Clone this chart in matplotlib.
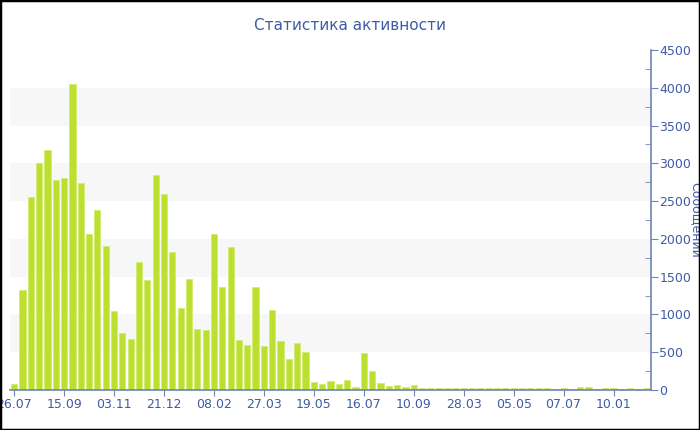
import matplotlib
matplotlib.use("Agg")
import matplotlib.pyplot as plt
from matplotlib.patches import Rectangle
from matplotlib.ticker import MultipleLocator

# Weekly message counts.
counts = [80, 1320, 2550, 3000, 3180, 2780, 2810, 4050, 2740, 2070,
          2380, 1900, 1040, 750, 670, 1690, 1460, 2850, 2600, 1820,
          1080, 1470, 807, 794, 2060, 1364, 1893, 666, 591, 1368,
          587, 1055, 653, 415, 622, 503, 101, 79, 124, 79,
          128, 35, 486, 256, 88, 53, 62, 35, 66, 31,
          24, 22, 30, 22, 25, 22, 20, 25, 22, 20,
          22, 20, 33, 22, 20, 18, 22, 18, 46, 40,
          18, 20, 22, 18, 20, 18, 20]
tick_labels = ["26.07", "15.09", "03.11", "21.12", "08.02", "27.03", "19.05",
               "16.07", "10.09", "28.03", "05.05", "07.07", "10.01"]
tick_step = 6

text_color = "#3f5ba5"
axis_color = "#6e83b8"

fig = plt.figure(figsize=(7, 4.3), dpi=100)
ax = fig.add_axes([10 / 700, 40 / 430, 641 / 700, 340 / 430])

# Alternating grey bands.
for lo in (500, 1500, 2500, 3500):
    ax.axhspan(lo, lo + 500, color="#f7f7f7", zorder=0, lw=0)

x = list(range(len(counts)))
ax.bar(x, counts, width=0.74, color="#bde030", edgecolor="#d2ec72",
       linewidth=0.6, zorder=2)

ax.set_xlim(-0.5, len(counts) - 0.5)
ax.set_ylim(0, 4500)

ax.set_xticks(x[::tick_step][:len(tick_labels)])
ax.set_xticklabels(tick_labels)

ax.yaxis.tick_right()
ax.yaxis.set_label_position("right")
ax.yaxis.set_major_locator(MultipleLocator(500))
ax.yaxis.set_minor_locator(MultipleLocator(250))
ax.tick_params(axis="y", which="major", direction="out", length=5,
               color=axis_color, labelcolor=text_color, labelsize=9, pad=1)
ax.tick_params(axis="y", which="minor", direction="in", length=4,
               color=axis_color)
ax.tick_params(axis="x", direction="out", length=4, color=axis_color,
               labelcolor=text_color, labelsize=9, pad=2)

for side in ("top", "left"):
    ax.spines[side].set_visible(False)
for side in ("bottom", "right"):
    ax.spines[side].set_color(axis_color)
    ax.spines[side].set_linewidth(1.2)

ax.set_ylabel("Сообщений", color=text_color, fontsize=9, rotation=270,
              labelpad=12)
ax.yaxis.set_label_coords(1.079, 0.5)

fig.text(0.5, 1 - 25 / 430, "Статистика активности", color=text_color,
         fontsize=11, ha="center", va="center")

# Black frame round the picture.
fig.patches.append(Rectangle((0, 0), 1, 1, transform=fig.transFigure,
                             fill=False, edgecolor="black", linewidth=2.5))

fig.savefig("out.png", dpi=100)
